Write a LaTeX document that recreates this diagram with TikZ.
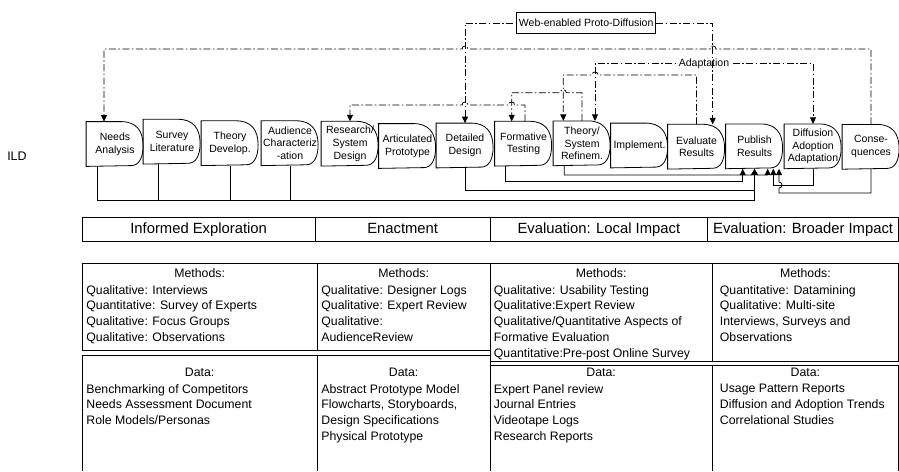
\documentclass[tikz,border=0pt]{standalone}
\usepackage{fontspec}
\setmainfont{Liberation Sans}
\usetikzlibrary{arrows.meta}

\begin{document}
\begin{tikzpicture}[x=1pt,y=-1pt,line width=0.8pt,
    >={Triangle[length=6.5pt,width=6pt]},
    proc/.style={minimum width=57pt,minimum height=44pt,inner sep=0pt,align=center,font=\fontsize{10.5}{12.8}\selectfont},
    ddot/.style={dash pattern=on 7pt off 2.5pt on 1.5pt off 2.5pt},
    lbl/.style={font=\fontsize{10.5}{12.8}\selectfont,inner sep=1pt},
    hdr/.style={draw,minimum height=24.4pt,inner sep=0pt,text height=10.8pt,text depth=3.1pt,font=\fontsize{14.8}{17}\selectfont},
    body/.style={align=left,inner sep=0pt,anchor=north west,font=\fontsize{12.3}{15.8}\selectfont},
    ttl/.style={inner sep=0pt,font=\fontsize{12.3}{15.8}\selectfont}]
\useasboundingbox (0,0) rectangle (899,471);

\node[font=\fontsize{12.5}{14}\selectfont] (ild) at (17,156) {ILD};

\node[proc] (needs) at (115,144) {Needs\\Analysis};
\node[proc] (survey) at (172,141.7) {Survey\\Literature};
\node[proc] (theory) at (230,143.2) {Theory\\Develop.};
\node[proc] (audience) at (290,143.2) {Audience\\Characteriz\\-ation};
\node[proc] (research) at (350,143.7) {Research/\\System\\Design};
\node[proc] (articul) at (407.5,146) {Articulated\\Prototype};
\node[proc] (detailed) at (465,145.5) {Detailed\\Design};
\node[proc] (formative) at (523.5,143.7) {Formative\\Testing};
\node[proc] (refinem) at (582,143.3) {Theory/\\System\\Refinem.};
\node[proc] (implement) at (639.5,145.5) {Implement.};
\node[proc] (evaluate) at (696.5,146.7) {Evaluate\\Results};
\node[proc] (publish) at (754.5,146.3) {Publish\\Results};
\node[proc] (diffusion) at (813,146.3) {Diffusion\\Adoption\\Adaptation};
\node[proc] (conseq) at (871,146.8) {Conse-\\quences};

\foreach \n in {needs,survey,theory,audience,research,articul,detailed,formative,refinem,implement,evaluate,publish,diffusion,conseq}
    \draw (\n.north west) -- ++(35,0) .. controls +(15,0) and +(0,-15) .. ++(22,24) .. controls +(0,12) and +(8,0) .. ++(-12,20) -- (\n.south west) -- cycle;

\draw[ddot,->] (conseq.north) |- (716,49) .. controls +(0,-4) and +(0,-4) .. (710,49) -- (468,49) .. controls +(0,-4) and +(0,-4) .. (462,49) -| ([xshift=-11]needs.north);

\node[lbl,draw,minimum width=139pt,minimum height=20.6pt] (web) at (586.2,23) {Web-enabled Proto-Diffusion};

\draw[ddot,<->] ([xshift=13]refinem.north) -- (595,63.3) -| (diffusion.north);
\node[lbl,fill=white] (adapt) at (704,63.3) {Adaptation};

\draw[ddot,<-] (detailed.north) |- (web.west);
\draw[ddot,->] (web.east) -| ([xshift=16.2]evaluate.north);

\draw[ddot,->] (evaluate.north) |- (598,75) .. controls +(0,-4) and +(0,-4) .. (592,75) -| ([xshift=-18.7]refinem.north);
\draw[ddot,->] (refinem.north) |- (566.3,92.7) .. controls +(0,-4) and +(0,-4) .. (560.3,92.7) -| ([xshift=-11.8]formative.north);
\draw[ddot,->] ([xshift=1.5]formative.north) |- (514.7,105) .. controls +(0,-4) and +(0,-4) .. (508.7,105) -- (468,105) .. controls +(0,-4) and +(0,-4) .. (462,105) -| (research.north);

\draw ([xshift=-13.7]survey.south) -- +(0,36);
\draw (theory.south) -- +(0,34.3);
\draw (audience.south) -- +(0,34.3);
\draw[->] ([xshift=-17.3]needs.south) |- (754.5,200) -- (publish.south);
\draw[->] (detailed.south) |- (754.5,190.7) -- (publish.south);
\draw[->] ([xshift=-17.8]formative.south) |- (742.7,181.7) -- ([xshift=-11.8]publish.south);
\draw[->] ([xshift=-17.7]refinem.south) |- (751.5,175) .. controls +(0,-4) and +(0,-4) .. (757.5,175) -| ([xshift=13.2]publish.south);
\draw[->] (diffusion.south) |- (773.3,185) -- ([xshift=18.8]publish.south);
\draw[->] (conseq.south) |- (779,193) -- (779,188) .. controls +(4,0) and +(4,0) .. (779,182) -- ([xshift=24.5]publish.south);

\node[hdr,minimum width=233.3pt] (explore) at (198.65,229.5) {Informed Exploration};
\node[hdr,minimum width=174.7pt] (enact) at (402.65,229.5) {Enactment};
\node[hdr,minimum width=217.7pt] (local) at (598.85,229.5) {Evaluation: Local Impact};
\node[hdr,minimum width=190.8pt] (broad) at (803.1,229.5) {Evaluation: Broader Impact};

\draw (82,263.3) rectangle (317.3,350) (317.3,263.3) rectangle (490,350);
\draw (490,263.3) rectangle (712.3,361.7) (712.3,263.3) rectangle (898.5,361.7);
\draw (82,471) |- (490,355.7) -- (490,471) (317.3,355.7) -- (317.3,471);
\draw (490,471) |- (898.5,365.5) -- (898.5,471) (712.3,365.5) -- (712.3,471);

\node[ttl] (mtIE) at (199.65,273.3) {Methods:};
\node[ttl] (mtEN) at (403.65,273.3) {Methods:};
\node[ttl] (mtLO) at (601.15,273.3) {Methods:};
\node[ttl] (mtBR) at (805.4,273.3) {Methods:};
\node[body] (mIE) at (86,284.7) {Qualitative: Interviews\\Quantitative: Survey of Experts\\Qualitative: Focus Groups\\Qualitative: Observations};
\node[body] (mEN) at (321,284.7) {Qualitative: Designer Logs\\Qualitative: Expert Review\\Qualitative:\\AudienceReview};
\node[body] (mLO) at (493.5,284.7) {Qualitative: Usability Testing\\Qualitative:Expert Review\\Qualitative/Quantitative Aspects of\\Formative Evaluation\\Quantitative:Pre-post Online Survey};
\node[body] (mBR) at (719.5,284.7) {Quantitative: Datamining\\Qualitative: Multi-site\\Interviews, Surveys and\\Observations};

\node[ttl] (dtIE) at (199.65,372.5) {Data:};
\node[ttl] (dtEN) at (403.65,372.5) {Data:};
\node[ttl] (dtLO) at (601.15,372.5) {Data:};
\node[ttl] (dtBR) at (805.4,372.5) {Data:};
\node[body] (dIE) at (86,383.7) {Benchmarking of Competitors\\Needs Assessment Document\\Role Models/Personas};
\node[body] (dEN) at (321,383.7) {Abstract Prototype Model\\Flowcharts, Storyboards,\\Design Specifications\\Physical Prototype};
\node[body] (dLO) at (493.5,383.7) {Expert Panel review\\Journal Entries\\Videotape Logs\\Research Reports};
\node[body] (dBR) at (719.5,383.7) {Usage Pattern Reports\\Diffusion and Adoption Trends\\Correlational Studies};
\end{tikzpicture}
\end{document}
